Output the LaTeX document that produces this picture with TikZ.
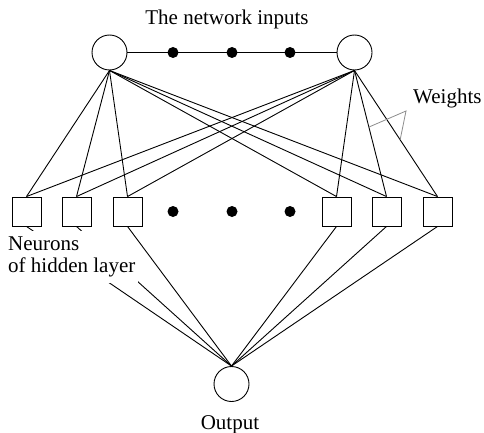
\documentclass[tikz,border=0pt]{standalone}
\usepackage{fontspec}
\setmainfont{Liberation Serif}
\tikzset{
  neuron/.style={circle,draw,fill=white,line width=0.9pt,minimum size=35pt,inner sep=0pt},
  hid/.style={rectangle,draw,fill=white,line width=0.9pt,minimum size=29pt,inner sep=0pt},
  bigdot/.style={circle,fill=black,minimum size=11pt,inner sep=0pt},
  wire/.style={line width=0.9pt},
  lbl/.style={font=\fontsize{21}{22}\selectfont,inner sep=0pt},
  pointer/.style={draw=black!45,line width=0.8pt}
}
\begin{document}
\begin{tikzpicture}[x=1pt,y=-1pt]
\useasboundingbox (0,0) rectangle (484,433);
% input layer
\node[neuron] (in1) at (109.5,52.5) {};
\node[neuron] (in2) at (354.5,52.5) {};
% hidden layer
\node[hid] (h1) at (26.5,211.5) {};
\node[hid] (h2) at (76.5,211.5) {};
\node[hid] (h3) at (127.5,211.5) {};
\node[hid] (h4) at (336.5,211.5) {};
\node[hid] (h5) at (386.5,211.5) {};
\node[hid] (h6) at (437.5,211.5) {};
% output
\node[neuron] (out) at (231.5,384) {};
% input connection line
\draw[wire] (in1) -- (in2);
\node[bigdot] (d1) at (173,52.5) {};
\node[bigdot] (d2) at (232,52.5) {};
\node[bigdot] (d3) at (290,52.5) {};
\node[bigdot] (e1) at (173,211.5) {};
\node[bigdot] (e2) at (232,211.5) {};
\node[bigdot] (e3) at (290,211.5) {};
% weights
\foreach \h in {h1,h2,h3,h4,h5,h6}{
  \draw[wire] (in1.south) -- (\h.north);
  \draw[wire] (in2.south) -- (\h.north);
}
\foreach \h in {h1,h2}{
  \draw[wire] (\h.south) -- (out.north);
}
% hidden-layer label (its white box hides part of two lines)
\node[lbl,anchor=north west,fill=white,inner xsep=3pt,inner ysep=6pt,align=left] (thid) at (5,231) {Neurons\\of hidden layer};
\foreach \h in {h3,h4,h5,h6}{
  \draw[wire] (\h.south) -- (out.north);
}
% labels
\node[lbl,anchor=base] (tin) at (227,24.5) {The network inputs};
\node[lbl,anchor=base] (tout) at (230,429) {Output};
\node[lbl,anchor=base west] (tw) at (413,103) {Weights};
% weights pointer
\path (in2.south) -- (h5.north) coordinate[pos=0.449] (p1);
\path (in2.south) -- (h6.north) coordinate[pos=0.55] (p2);
\coordinate (wa) at (406,111);
\draw[pointer] (p1) -- (wa) -- (p2);
\end{tikzpicture}
\end{document}
